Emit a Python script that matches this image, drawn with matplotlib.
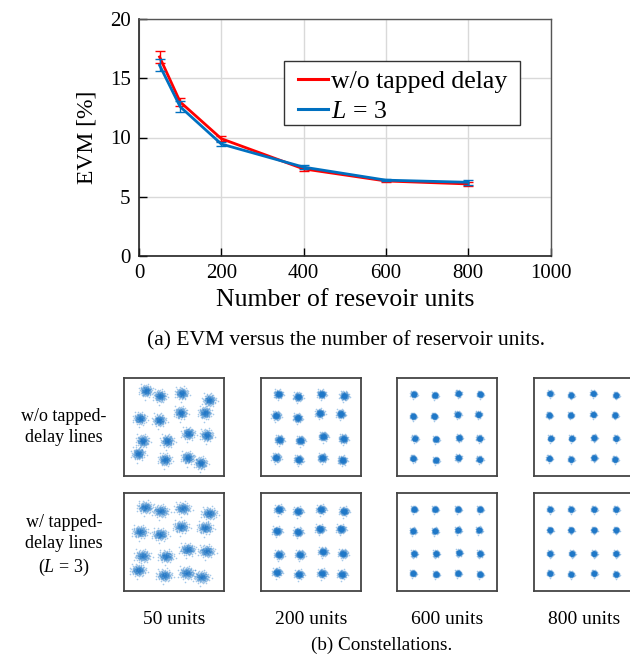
import numpy as np
import matplotlib
matplotlib.use("Agg")
import matplotlib.pyplot as plt
from matplotlib.lines import Line2D
from matplotlib.patches import Rectangle

plt.rcParams['font.family'] = ['Liberation Serif', 'DejaVu Serif']
plt.rcParams['mathtext.fontset'] = 'custom'
plt.rcParams['mathtext.it'] = 'Liberation Serif:italic'
plt.rcParams['mathtext.rm'] = 'Liberation Serif'

# ---------------- data: EVM vs reservoir units ----------------
units = [50, 100, 200, 400, 600, 800]
evm_wo = [16.8, 13.0, 9.9, 7.35, 6.33, 6.08]
err_wo = [0.5, 0.3, 0.2, 0.15, 0.1, 0.15]
evm_L3 = [16.1, 12.6, 9.45, 7.5, 6.4, 6.22]
err_L3 = [0.5, 0.45, 0.2, 0.15, 0.1, 0.2]
legend_labels = ['w/o tapped delay', '$\\mathit{L}$ = 3']
xticks = [0, 200, 400, 600, 800, 1000]
yticks = [0, 5, 10, 15, 20]

# ---------------- data: constellation cluster centres (normalised) ----------------
col_labels = ['50 units', '200 units', '600 units', '800 units']
row_labels = ['w/o tapped-\ndelay lines', 'w/ tapped-\ndelay lines\n($\\mathit{L}$ = 3)']

centers_wo_50 = [(.22, .867), (.36, .813), (.577, .84), (.853, .772),
                 (.16, .585), (.353, .568), (.567, .643), (.81, .643),
                 (.187, .357), (.433, .357), (.643, .432), (.827, .415),
                 (.143, .228), (.41, .167), (.637, .187), (.767, .133)]
centers_wo_200 = [(.175, .832), (.37, .805), (.606, .832), (.832, .815),
                  (.152, .614), (.367, .591), (.589, .638), (.798, .631),
                  (.185, .369), (.394, .362), (.623, .403), (.825, .379),
                  (.152, .188), (.377, .168), (.613, .185), (.815, .161)]
centers_wo_600 = [(.168, .831), (.379, .821), (.614, .838), (.832, .831),
                  (.161, .608), (.372, .608), (.607, .625), (.815, .625),
                  (.178, .382), (.389, .375), (.621, .389), (.826, .382),
                  (.161, .179), (.389, .162), (.614, .186), (.826, .169)]
centers_wo_800 = [(.16, .838), (.37, .821), (.593, .838), (.82, .821),
                  (.153, .618), (.367, .618), (.593, .625), (.81, .618),
                  (.167, .382), (.377, .382), (.6, .389), (.82, .382),
                  (.153, .179), (.37, .169), (.6, .186), (.81, .169)]
centers_L3_50 = [(.21, .85), (.367, .813), (.587, .84), (.853, .789),
                 (.16, .602), (.36, .575), (.57, .653), (.81, .643),
                 (.187, .357), (.42, .354), (.637, .422), (.827, .405),
                 (.143, .211), (.403, .16), (.627, .184), (.777, .143)]
centers_L3_200 = [(.18, .83), (.37, .81), (.6, .83), (.83, .81),
                  (.16, .61), (.37, .6), (.59, .63), (.8, .63),
                  (.18, .37), (.39, .37), (.62, .4), (.82, .38),
                  (.16, .19), (.38, .17), (.61, .18), (.81, .17)]
centers_L3_600 = [(.17, .83), (.38, .83), (.61, .83), (.83, .83),
                  (.16, .61), (.38, .61), (.61, .62), (.82, .62),
                  (.17, .38), (.39, .38), (.62, .39), (.83, .38),
                  (.16, .18), (.39, .17), (.61, .18), (.83, .17)]
centers_L3_800 = [(.16, .83), (.37, .83), (.6, .83), (.82, .83),
                  (.16, .62), (.37, .62), (.6, .62), (.82, .62),
                  (.16, .38), (.38, .38), (.6, .38), (.82, .38),
                  (.16, .18), (.37, .17), (.6, .18), (.82, .17)]
# cluster spread (std, normalised) for each panel: (sx, sy)
spread_wo = [(0.029, 0.027), (0.02, 0.019), (0.014, 0.014), (0.013, 0.013)]
spread_L3 = [(0.035, 0.027), (0.021, 0.019), (0.014, 0.014), (0.013, 0.013)]
centers = [[centers_wo_50, centers_wo_200, centers_wo_600, centers_wo_800],
           [centers_L3_50, centers_L3_200, centers_L3_600, centers_L3_800]]
spreads = [spread_wo, spread_L3]

W, H = 630, 657
fig = plt.figure(figsize=(W / 100, H / 100), dpi=100)

def fx(px):
    return px / W

def fy(py):
    return 1 - py / H

# ---------------- top chart ----------------
ax = fig.add_axes([fx(139), fy(256), fx(550.5) - fx(139), fy(19) - fy(256)])
red = '#FF0000'
blue = '#0070C0'
ax.errorbar(units, evm_wo, yerr=err_wo, color=red, lw=2.0, capsize=3.5,
            elinewidth=1.0, capthick=1.0, zorder=3)
ax.errorbar(units, evm_L3, yerr=err_L3, color=blue, lw=2.0, capsize=3.5,
            elinewidth=1.0, capthick=1.0, zorder=4)
ax.set_xlim(0, 1000)
ax.set_ylim(0, 20)
ax.set_xticks(xticks)
ax.set_yticks(yticks)
ax.grid(True, color='#d9d9d9', lw=1.0)
ax.set_axisbelow(True)
ax.tick_params(direction='in', length=6, width=1.0, labelsize=15, pad=6)
for s in ['top', 'right']:
    ax.spines[s].set_color('#555555')
    ax.spines[s].set_linewidth(1.0)
for s in ['left', 'bottom']:
    ax.spines[s].set_color('#222222')
    ax.spines[s].set_linewidth(1.2)
ax.set_xlabel('Number of resevoir units', fontsize=18.5, labelpad=4)
ax.set_ylabel('EVM [%]', fontsize=17, labelpad=9)

# legend frame drawn separately for exact padding
frame = Rectangle((fx(284), fy(125)), fx(520) - fx(284), fy(61) - fy(125),
                  transform=fig.transFigure, facecolor='white',
                  edgecolor='#333333', lw=1.0, zorder=5)
fig.add_artist(frame)
handles = [Line2D([], [], color=red, lw=2.2), Line2D([], [], color=blue, lw=2.2)]
leg = ax.legend(handles, legend_labels, loc='upper left',
                bbox_to_anchor=(0.371, 0.81), fontsize=18.5,
                frameon=False, handlelength=1.15, handletextpad=0.15,
                borderpad=0.25, labelspacing=0.25, borderaxespad=0)
leg.set_zorder(6)
fig.add_artist(leg)

fig.text(fx(346), fy(341), '(a) EVM versus the number of reservoir units.',
         ha='center', va='center', fontsize=15.5)

# ---------------- constellations ----------------
box_left = [124, 261, 397, 534]
box_top = [377.5, 492.5]
bw, bh = 100, 98.5

# deterministic sunflower fill of each cluster with gaussian radial profile
N = 160
k = np.arange(N)
rad = np.sqrt(-2 * np.log(1 - (k + 0.5) / N))
ang = k * np.pi * (3 - np.sqrt(5))
ux, uy = rad * np.cos(ang), rad * np.sin(ang)

for r in range(2):
    for c in range(4):
        a = fig.add_axes([fx(box_left[c]), fy(box_top[r] + bh),
                          fx(bw), bh / H])
        sx, sy = spreads[r][c]
        for (cx, cy) in centers[r][c]:
            a.scatter(cx + sx * ux, cy + sy * uy, s=1.4, color='#1f78c8',
                      alpha=0.4, linewidths=0)
        a.set_xlim(0, 1)
        a.set_ylim(0, 1)
        a.set_xticks([])
        a.set_yticks([])
        for s in a.spines.values():
            s.set_color('#444444')
            s.set_linewidth(1.3)

fig.text(fx(64), fy(427), row_labels[0], ha='center', va='center',
         fontsize=13, linespacing=1.3)
fig.text(fx(64), fy(546), row_labels[1], ha='center', va='center',
         fontsize=13, linespacing=1.3)
for c in range(4):
    fig.text(fx(box_left[c] + bw / 2), fy(620), col_labels[c], ha='center',
             va='center', fontsize=14)
fig.text(fx(382), fy(645), '(b) Constellations.', ha='center', va='center',
         fontsize=13.8)

fig.savefig('out.png', dpi=100)
